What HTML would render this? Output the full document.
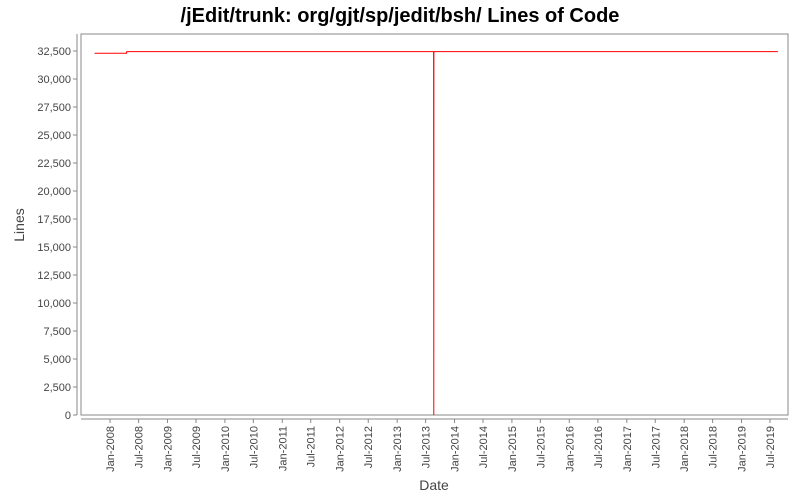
<!DOCTYPE html>
<html><head><meta charset="utf-8"><style>
body{margin:0;background:#fff;}
svg{display:block;font-family:"Liberation Sans",sans-serif;}
</style></head><body>
<svg id="c" width="800" height="500">
<text x="400" y="22" text-anchor="middle" font-size="20" font-weight="bold" fill="#000">/jEdit/trunk: org/gjt/sp/jedit/bsh/ Lines of Code</text>
<rect x="81" y="34" width="707" height="381" fill="#fff" stroke="#888"/>
<text x="24" y="225" text-anchor="middle" font-size="14" fill="#444" transform="rotate(-90 24 225)">Lines</text>
<text x="434" y="490" text-anchor="middle" font-size="14" fill="#444">Date</text>
<g id="axes"></g><g id="series"></g>
</svg>
<script>
const yTicks=[0,2500,5000,7500,10000,12500,15000,17500,20000,22500,25000,27500,30000,32500];
const xTickLabels=["Jan-2008","Jul-2008","Jan-2009","Jul-2009","Jan-2010","Jul-2010","Jan-2011","Jul-2011","Jan-2012","Jul-2012","Jan-2013","Jul-2013","Jan-2014","Jul-2014","Jan-2015","Jul-2015","Jan-2016","Jul-2016","Jan-2017","Jul-2017","Jan-2018","Jul-2018","Jan-2019","Jul-2019"];
const dates=["2007-09-25","2008-04-15","2008-04-16","2013-08-21","2013-08-22","2013-08-23","2019-08-20"];
const values=[32300,32300,32450,32450,0,32450,32450];
const NS="http://www.w3.org/2000/svg";
const axes=document.getElementById('axes'),series=document.getElementById('series');
const t0=Date.UTC(2008,0,1),t1=Date.UTC(2019,6,1);
function xs(d){const t=(d instanceof Date?d:new Date(d+"T00:00:00Z")).getTime();return 110+(t-t0)/(t1-t0)*660;}
function ys(v){return 415-v/32500*364;}
function mk(tag,a){const e=document.createElementNS(NS,tag);for(const k in a)e.setAttribute(k,a[k]);return e;}
let l=mk('line',{x1:77,y1:34,x2:77,y2:415,stroke:'#888'});


axes.appendChild(l);
l=mk('line',{x1:81,y1:419,x2:788,y2:419,stroke:'#888'});


axes.appendChild(l);
yTicks.forEach(v=>{const y=ys(v);
 const t=mk('line',{x1:73,y1:y,x2:77,y2:y,stroke:'#888'});
 
 
 axes.appendChild(t);
 const tx=mk('text',{x:71,y:y+4,'text-anchor':'end','font-size':11,fill:'#444'});
 tx.textContent=v.toLocaleString('en-US');
 
 
 axes.appendChild(tx);});
xTickLabels.forEach(s=>{const [m,yr]=s.split('-');const d=new Date(Date.UTC(+yr,m==='Jan'?0:6,1));const x=xs(d);
 const t=mk('line',{x1:x,y1:419,x2:x,y2:423,stroke:'#888'});
 
 
 axes.appendChild(t);
 const tx=mk('text',{x:x+4,y:426,'text-anchor':'end','font-size':11,fill:'#444',transform:`rotate(-90 ${x+4} 426)`});
 tx.textContent=s;
 
 
 axes.appendChild(tx);});
const pts=dates.map((d,i)=>xs(d).toFixed(1)+','+ys(values[i]).toFixed(1)).join(' ');
const p=mk('polyline',{points:pts,fill:'none',stroke:'#f00','stroke-width':1});


series.appendChild(p);
</script>
</body></html>
